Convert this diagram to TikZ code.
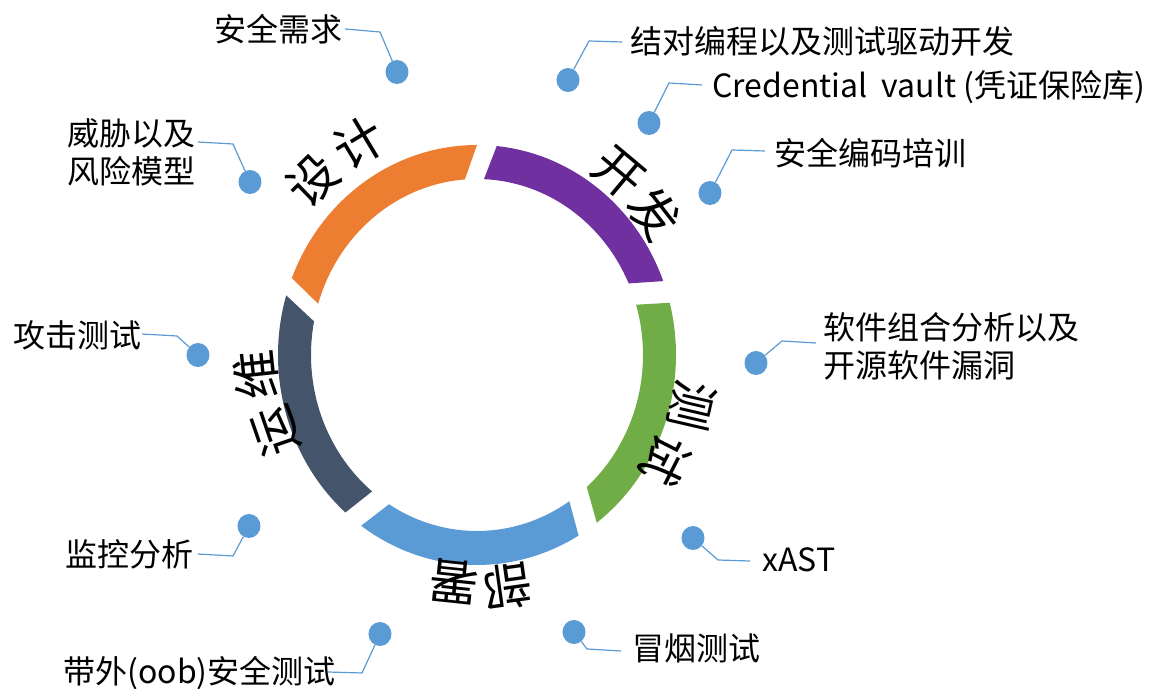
\documentclass[tikz,border=0pt]{standalone}
\usepackage{fontspec}
\newfontfamily\cjk{Noto Sans CJK SC}
\usetikzlibrary{shapes.geometric}
\definecolor{cOrange}{HTML}{ED7D31}
\definecolor{cPurple}{HTML}{7030A0}
\definecolor{cGreen}{HTML}{70AD47}
\definecolor{cBlue}{HTML}{5B9BD5}
\definecolor{cSlate}{HTML}{44546A}
\newcommand\ringseg[5]{%
  \fill[#1] (#2:199 and 210) arc[start angle=#2, end angle=#3, x radius=199, y radius=210]
    -- (#5:166 and 176) arc[start angle=#5, end angle=#4, x radius=166, y radius=176] -- cycle;}
\tikzset{
  lbl/.style={font=\cjk\fontsize{24pt}{28.5pt}\selectfont, inner sep=0pt, text=black},
  ringch/.style={font=\cjk\fontsize{37pt}{37pt}\selectfont, inner sep=0pt, text=black},
  dotn/.style={ellipse, fill=cBlue, minimum width=17.25pt, minimum height=18pt, inner sep=0pt},
  leader/.style={draw=cBlue, line width=0.9pt}
}
\begin{document}
\begin{tikzpicture}[x=0.75pt, y=0.75pt]
\useasboundingbox (-477,-336) rectangle (684,355);
% ring segments
\ringseg{cOrange}{90}{158.5}{94.2}{163.1}
\ringseg{cPurple}{20.6}{84.3}{24.0}{87.6}
\ringseg{cGreen}{-53.0}{14.4}{-48.6}{16.6}
\ringseg{cBlue}{-125.6}{-59.3}{-122.0}{-56.2}
\ringseg{cSlate}{163.5}{228.6}{169.0}{230.8}
% ring labels
\node[ringch, rotate=44]  (sheji1) at (-164.5,175) {设};
\node[ringch, rotate=31]  (sheji2) at (-117.5,212) {计};
\node[ringch, rotate=-40] (kaifa1) at (141,182) {开};
\node[ringch, rotate=-52] (kaifa2) at (177,142) {发};
\node[ringch, rotate=-103] (ceshi1) at (215,-51) {测};
\node[ringch, rotate=-117] (ceshi2) at (189,-105) {试};
\node[ringch, rotate=-172] (bushu1) at (31,-232) {部};
\node[ringch, rotate=174]  (bushu2) at (-23,-227) {署};
\node[ringch, rotate=96]  (yunwei2) at (-221,-20) {维};
\node[ringch, rotate=109] (yunwei1) at (-201,-76) {运};
% callouts
% 1
\node[dotn] (d1) at (-80,283) {};
\coordinate (b1) at (-97,323); \coordinate (e1) at (-132,326);
\node[lbl, anchor=east] (t1) at (-134,326) {安全需求};
\draw[leader] (d1) -- (b1) -- (e1);
% 2
\node[dotn] (d2) at (91,275) {};
\coordinate (b2) at (112,314); \coordinate (e2) at (145,313);
\node[lbl, anchor=west] (t2) at (153,314) {结对编程以及测试驱动开发};
\draw[leader] (d2) -- (b2) -- (e2);
% 3
\node[dotn] (d3) at (172,232) {};
\coordinate (b3) at (192,272); \coordinate (e3) at (225,270);
\node[lbl, anchor=west] (t3) at (235,268) {Credential\ \ vault (凭证保险库)};
\draw[leader] (d3) -- (b3) -- (e3);
% 4
\node[dotn] (d4) at (233,162) {};
\coordinate (b4) at (255,205); \coordinate (e4) at (288,204);
\node[lbl, anchor=west] (t4) at (297,202) {安全编码培训};
\draw[leader] (d4) -- (b4) -- (e4);
% 5
\node[dotn] (d5) at (-227,173) {};
\coordinate (b5) at (-244,211); \coordinate (e5) at (-279,213);
\node[lbl, anchor=east, align=left] (t5) at (-281,203) {威胁以及\\风险模型};
\draw[leader] (d5) -- (b5) -- (e5);
% 6
\node[dotn] (d6) at (-279,0) {};
\coordinate (b6) at (-300,19); \coordinate (e6) at (-335,21);
\node[lbl, anchor=east] (t6) at (-335,20) {攻击测试};
\draw[leader] (d6) -- (b6) -- (e6);
% 7
\node[dotn] (d7) at (-228,-171) {};
\coordinate (b7) at (-244,-201); \coordinate (e7) at (-279,-199);
\node[lbl, anchor=east] (t7) at (-283,-199) {监控分析};
\draw[leader] (d7) -- (b7) -- (e7);
% 8
\node[dotn] (d8) at (-97,-279) {};
\coordinate (b8) at (-115,-318); \coordinate (e8) at (-149,-317);
\node[lbl, anchor=east] (t8) at (-141,-318) {带外(oob)安全测试};
\draw[leader] (d8) -- (b8) -- (e8);
% 9
\node[dotn] (d9) at (279,-8) {};
\coordinate (b9) at (305,14); \coordinate (e9) at (339,12);
\node[lbl, anchor=west, align=left] (t9) at (346,9) {软件组合分析以及\\开源软件漏洞};
\draw[leader] (d9) -- (b9) -- (e9);
% 10
\node[dotn] (d10) at (216,-183) {};
\coordinate (b10) at (241,-205); \coordinate (e10) at (273,-206);
\node[lbl, anchor=west] (t10) at (285,-205) {xAST};
\draw[leader] (d10) -- (b10) -- (e10);
% 11
\node[dotn] (d11) at (97,-277) {};
\coordinate (b11) at (110,-294); \coordinate (e11) at (144,-296);
\node[lbl, anchor=west] (t11) at (155,-293) {冒烟测试};
\draw[leader] (d11) -- (b11) -- (e11);
\end{tikzpicture}
\end{document}
